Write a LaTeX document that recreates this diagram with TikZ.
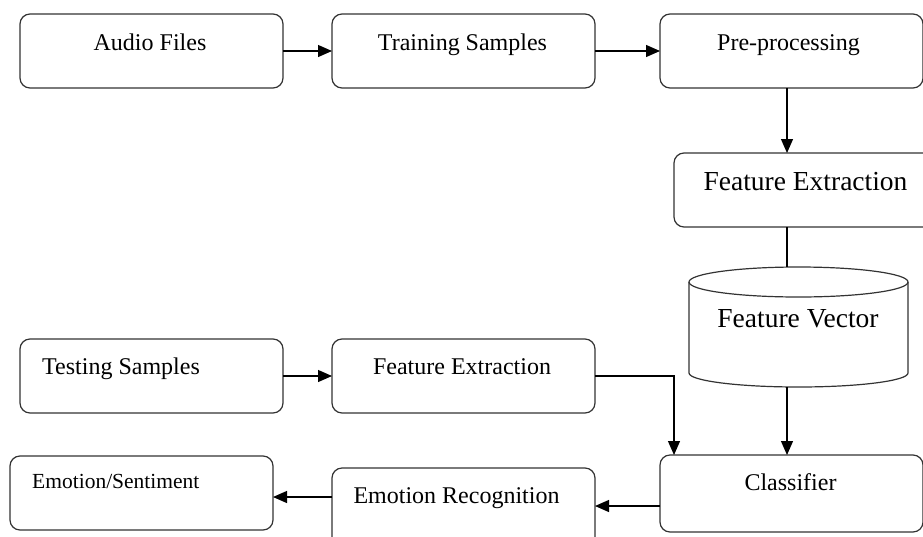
\documentclass[tikz,border=0pt]{standalone}
\usepackage{fontspec}
\setmainfont{Liberation Serif}
\usetikzlibrary{arrows.meta,calc}
\begin{document}
\begin{tikzpicture}[x=1pt,y=-1pt,
  box/.style={draw=black!80,line width=1.2pt,rounded corners=10pt,minimum width=263pt,minimum height=74pt,inner sep=0pt,outer sep=0pt,anchor=north west},
  txt/.style={inner sep=0pt,anchor=base,font=\fontsize{24}{28}\selectfont},
  bigtxt/.style={inner sep=0pt,anchor=base,font=\fontsize{27.5}{32}\selectfont},
  smalltxt/.style={inner sep=0pt,anchor=base west,font=\fontsize{21.5}{25}\selectfont},
  arr/.style={draw=black,line width=1.2pt,-{Triangle[length=14pt,width=12pt]}},
  ln/.style={draw=black,line width=1.2pt}]
\useasboundingbox (0,0) rectangle (923,536);
\clip (0,0) rectangle (923,536);
% boxes
\node[box] (af) at (20,14) {};
\node[box] (ts) at (332,14) {};
\node[box] (pre) at (660,14) {};
\node[box] (fe1) at (674,153) {};
\node[box,minimum height=77pt] (cls) at (660,455) {};
\node[box] (tsamp) at (20,339) {};
\node[box] (fe2) at (332,339) {};
\node[box,minimum height=85pt] (er) at (332,468) {};
\node[box] (es) at (10,456) {};
% cylinder
\node[minimum width=219pt,minimum height=120pt,inner sep=0pt,outer sep=0pt] (fv) at (798.5,327) {};
\draw[draw=black!80,line width=1.2pt,fill=white] (689,282) -- (689,373) arc[start angle=180,end angle=360,x radius=109.5pt,y radius=14pt] -- (908,282);
\draw[draw=black!80,line width=1.2pt] (798.5,282) ellipse [x radius=109.5pt,y radius=15pt];
% texts
\node[txt] (taf) at (150,50) {Audio Files};
\node[txt] (tts) at (462.5,50) {Training Samples};
\node[txt] (tpre) at (788.5,50) {Pre-processing};
\node[bigtxt] (tfe1) at (805.5,190) {Feature Extraction};
\node[bigtxt] (tfv) at (798,327) {Feature Vector};
\node[txt] (tcls) at (790.5,490) {Classifier};
\node[txt,anchor=base west] (ttsamp) at (42,374) {Testing Samples};
\node[txt] (tfe2) at (462,374) {Feature Extraction};
\node[txt] (ter) at (456.5,503) {Emotion Recognition};
\node[smalltxt] (tes) at (32,488) {Emotion/Sentiment};
% connector coordinates
\coordinate (cx) at (787,0);
\coordinate (cx2) at (674,0);
\coordinate (cy1) at (0,506);
\coordinate (cy2) at (0,497);
% connectors
\draw[arr] (af.east) -- (ts.west);
\draw[arr] (ts.east) -- (pre.west);
\draw[arr] (pre.south -| cx) -- (fe1.north -| cx);
\draw[ln] (fe1.south -| cx) -- (fv.north -| cx);
\draw[arr] (fv.south -| cx) -- (cls.north -| cx);
\draw[arr] (tsamp.east) -- (fe2.west);
\draw[arr] (fe2.east) -| (cls.north -| cx2);
\draw[arr] (cls.west |- cy1) -- (er.east |- cy1);
\draw[arr] (er.west |- cy2) -- (es.east |- cy2);
\end{tikzpicture}
\end{document}
